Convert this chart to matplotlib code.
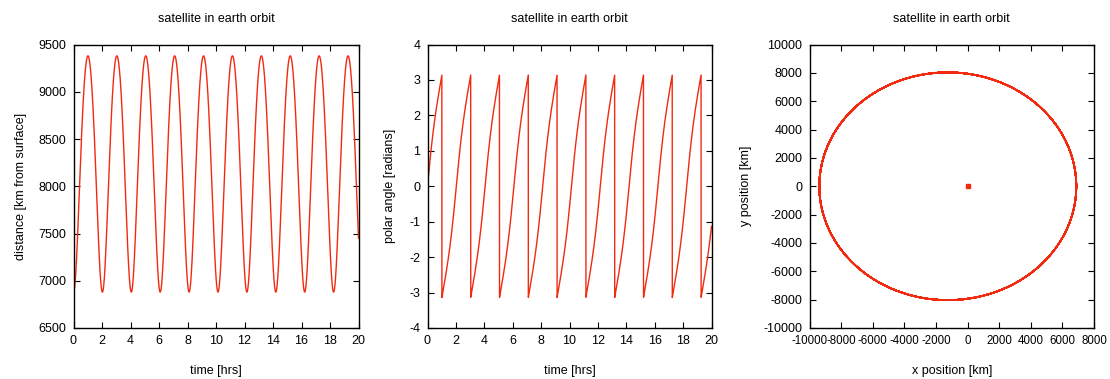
import numpy as np
import matplotlib as mpl
mpl.use("Agg")
import matplotlib.pyplot as plt

# orbit
perigee_km = 6880.0     # closest distance (t=0)
apogee_km = 9380.0      # farthest distance
period_hrs = 2.028      # time between troughs
t_range = [0.0, 20.0]
n_samples = 4000
earth_xy = [0.0, 0.0]

dist_ticks = [6500, 7000, 7500, 8000, 8500, 9000, 9500]
angle_ticks = [-4, -3, -2, -1, 0, 1, 2, 3, 4]
time_ticks = [0, 2, 4, 6, 8, 10, 12, 14, 16, 18, 20]
pos_ticks = [-10000, -8000, -6000, -4000, -2000, 0, 2000, 4000, 6000, 8000, 10000]
xpos_ticks = [-10000, -8000, -6000, -4000, -2000, 0, 2000, 4000, 6000, 8000]

# keplerian orbit through those elements
a = (perigee_km + apogee_km) / 2
e = (apogee_km - perigee_km) / (apogee_km + perigee_km)
t = np.linspace(t_range[0], t_range[1], n_samples)
M = 2 * np.pi * t / period_hrs
E = M.copy()
for _ in range(50):
    E = E - (E - e * np.sin(E) - M) / (1 - e * np.cos(E))
x = a * (np.cos(E) - e)
y = a * np.sqrt(1 - e**2) * np.sin(E)
r = np.hypot(x, y)
theta = np.arctan2(y, x)

col = "#f22a10"
plt.rcParams["font.family"] = ["Liberation Sans", "DejaVu Sans"]
plt.rcParams["font.size"] = 9
plt.rcParams["axes.unicode_minus"] = False

fig = plt.figure(figsize=(11.1, 3.79), dpi=100)
W, H = 1110, 379
boxes = [(73.5, 358.5), (427.5, 711.5), (809.5, 1094)]
axes = []
for l, rr in boxes:
    axes.append(fig.add_axes([l / W, 1 - 328 / H, (rr - l) / W, (328 - 44.5) / H]))

def style(ax):
    ax.tick_params(direction="in", length=4, width=0.8, top=True, right=True, pad=5, labelsize=9)
    for s in ax.spines.values():
        s.set_linewidth(1.0)
    ax.set_title("satellite in earth orbit", fontsize=9, pad=16)

ax = axes[0]
ax.plot(t, r, color=col, lw=1.0)
ax.set_xlim(0, 20)
ax.set_ylim(6500, 9500)
ax.set_xticks(time_ticks)
ax.set_yticks(dist_ticks)
ax.set_xlabel("time [hrs]", labelpad=13)
ax.set_ylabel("distance [km from surface]", labelpad=8)
style(ax)

ax = axes[1]
ax.plot(t, theta, color=col, lw=1.0)
ax.set_xlim(0, 20)
ax.set_ylim(-4, 4)
ax.set_xticks(time_ticks)
ax.set_yticks(angle_ticks)
ax.set_xlabel("time [hrs]", labelpad=13)
ax.set_ylabel("polar angle [radians]", labelpad=10)
style(ax)

ax = axes[2]
ax.plot(x, y, color=col, lw=1.2)
ax.plot([earth_xy[0]], [earth_xy[1]], "s", color=col, ms=2.5)
ax.set_xlim(-10000, 8000)
ax.set_ylim(-10000, 10000)
ax.set_xticks(xpos_ticks)
ax.set_yticks(pos_ticks)
ax.set_xlabel("x position [km]", labelpad=13)
ax.set_ylabel("y position [km]", labelpad=8)
style(ax)
ax.tick_params(axis="x", labelsize=8.3)

fig.savefig("out.png", dpi=100)
